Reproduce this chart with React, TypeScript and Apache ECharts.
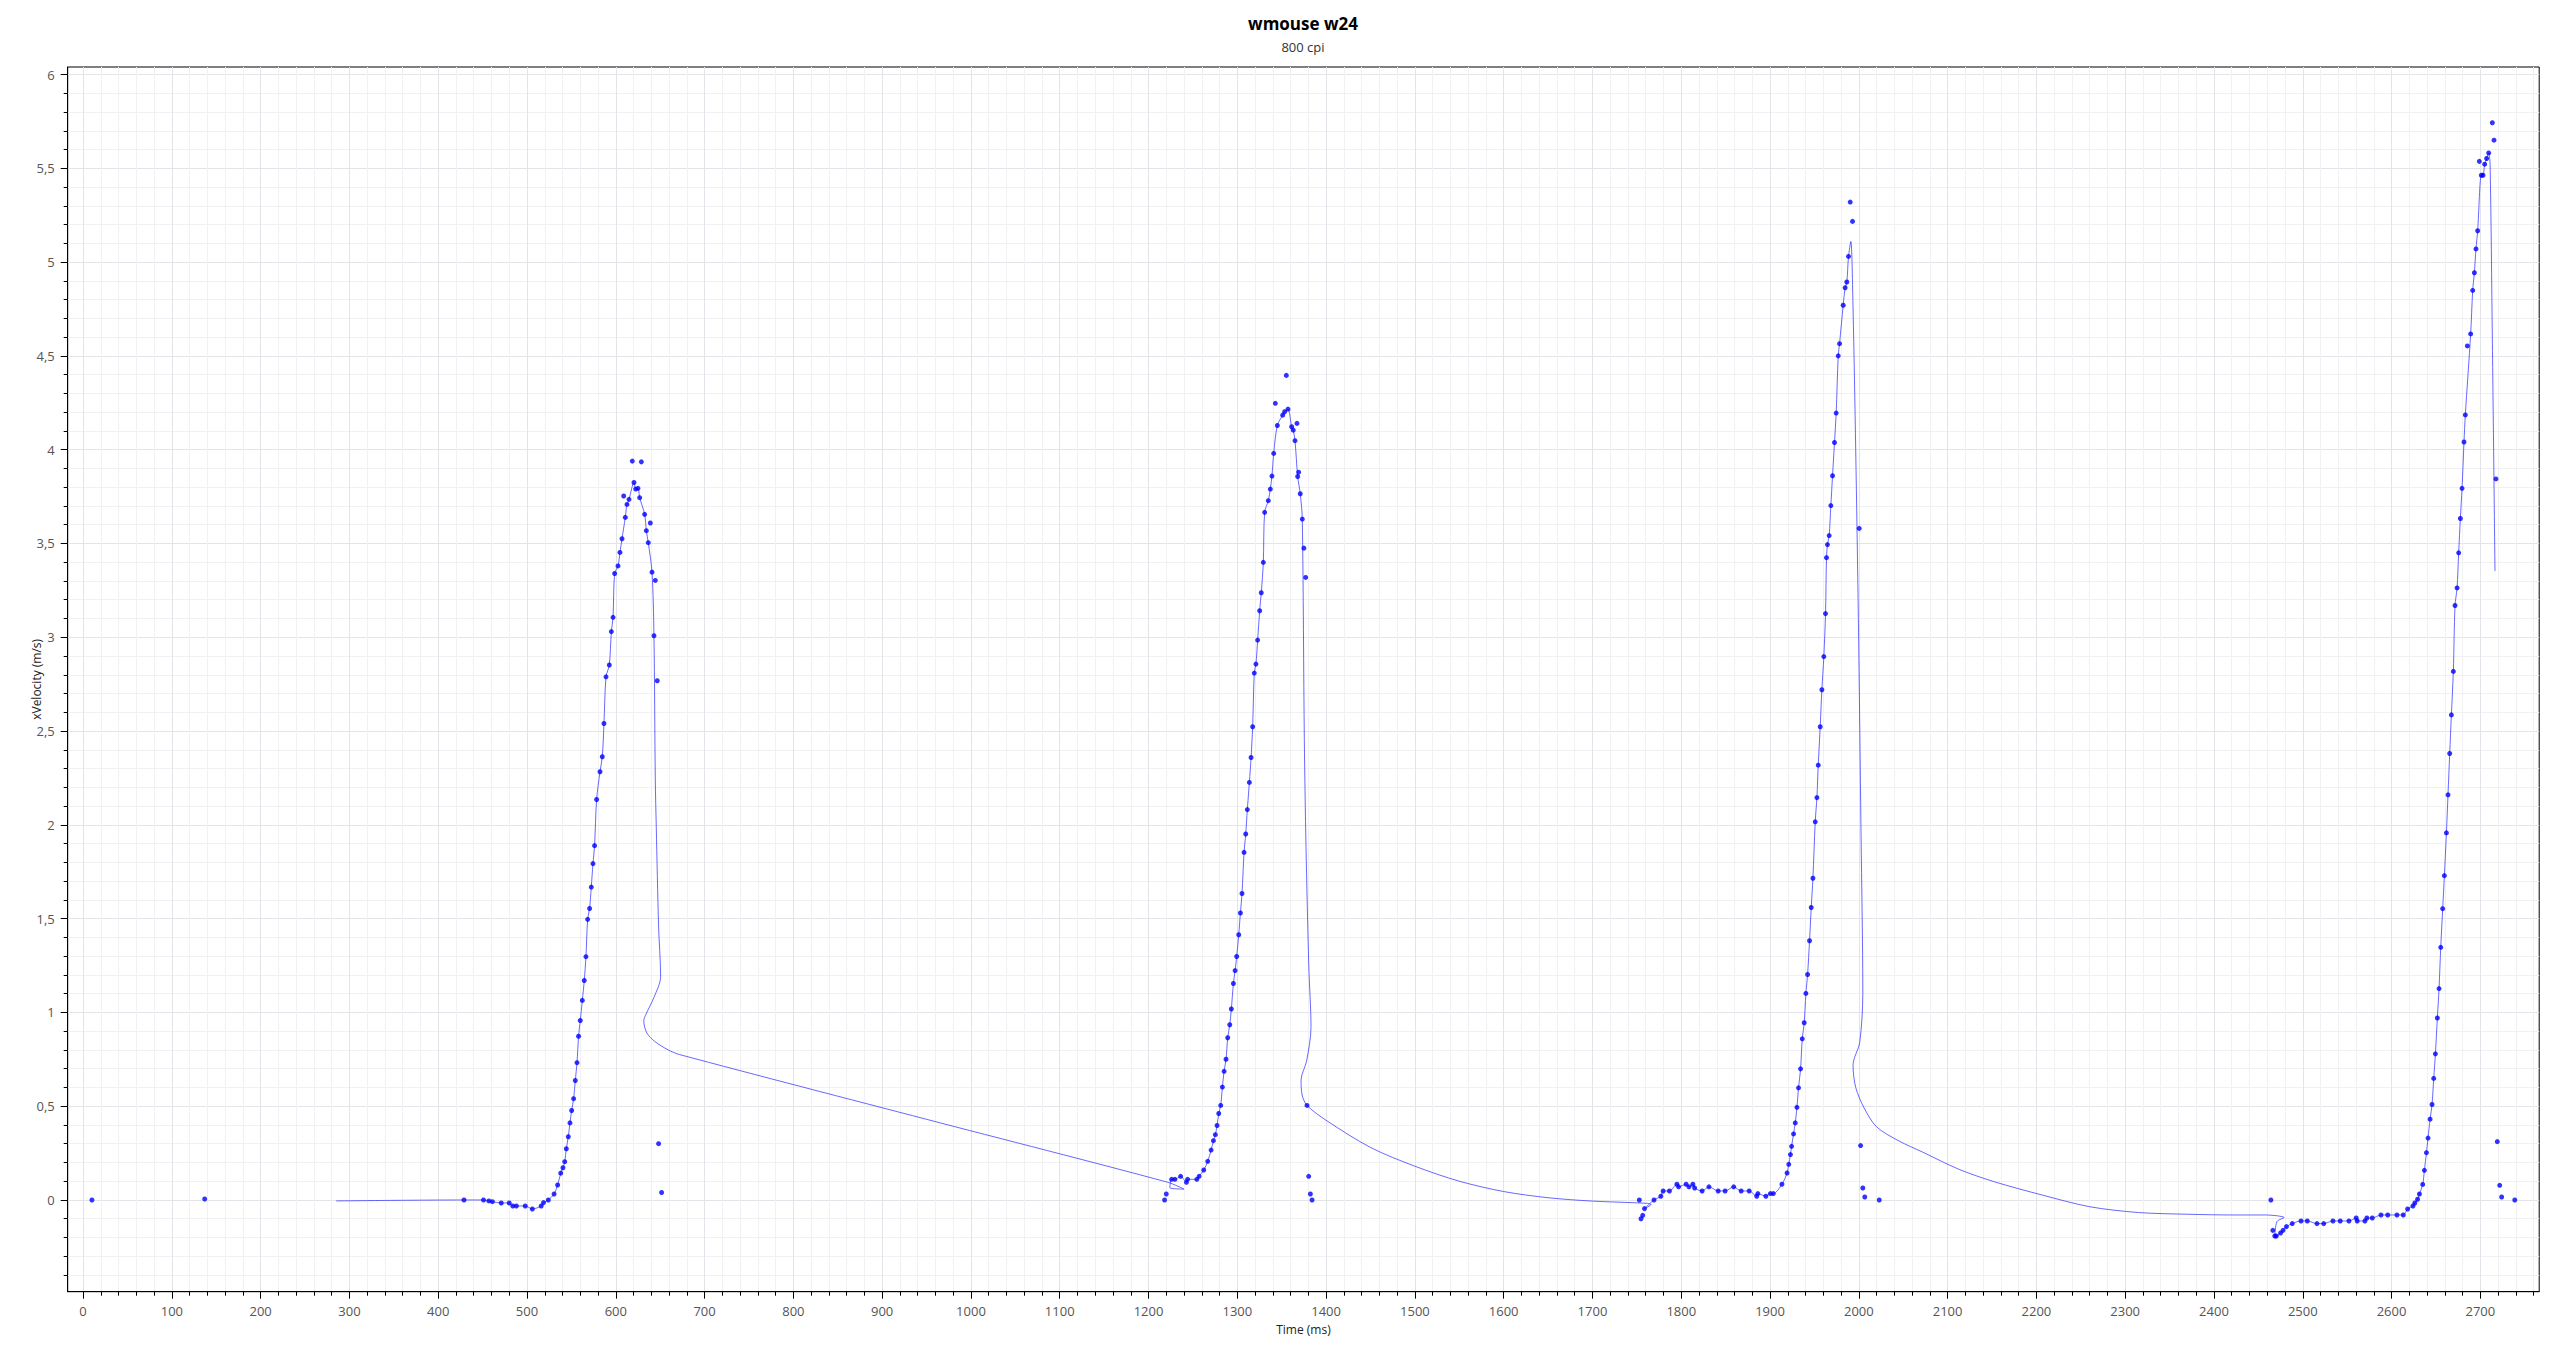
import React, { useEffect, useRef } from "react";
import * as echarts from "echarts";

// ---------- data (time in ms, x velocity in m/s) ----------
const strayPoints: number[][] = [[10, 0], [137, 0.005]];

const idleLead: number[][] = [[285, -0.005]];

const burst1: number[][] = [
  [429, 0], [451, 0], [457, -0.005], [461, -0.009], [471, -0.016], [480, -0.016], [484, -0.032], [488, -0.032],
  [498, -0.032], [506, -0.048], [516, -0.032], [518.6, -0.014], [524, 0], [530.5, 0.032], [534.5, 0.08], [538, 0.143],
  [540.5, 0.172], [542.5, 0.204], [544.3, 0.273], [546.5, 0.337], [548.4, 0.411], [550.3, 0.477], [552.5, 0.54],
  [554.4, 0.637], [556.3, 0.732], [558.1, 0.873], [560, 0.957], [562.3, 1.064], [564.5, 1.17], [566.4, 1.297],
  [568.3, 1.496], [570.5, 1.554], [572.4, 1.668], [574.3, 1.793], [576.1, 1.889], [578.4, 2.135], [582.2, 2.283],
  [584.8, 2.363], [586.7, 2.54], [589, 2.789], [592.7, 2.852], [595, 3.03], [596.9, 3.106], [598.7, 3.34],
  [602.5, 3.38], [604.7, 3.452], [607, 3.525], [610.7, 3.639], [612.6, 3.708], [614.9, 3.735], [620.5, 3.825],
  [622.4, 3.79], [625, 3.794], [626.9, 3.744], [632.5, 3.655], [634.4, 3.568], [636.6, 3.504], [640.8, 3.347],
  [643, 3.008],
];
const burst1Outliers: number[][] = [
  [608.9, 3.753], [618.6, 3.939], [628.8, 3.935], [638.9, 3.609], [644.5, 3.303], [646.7, 2.768], [648.2, 0.3], [651.6, 0.04],
];
const bridge1: number[][] = [
  [644.5, 2.24], [645.6, 1.99], [648.2, 1.46], [650.5, 1.19], [643, 1.08], [634, 0.99], [631.5, 0.955], [635, 0.89],
  [644, 0.845], [659, 0.8], [672, 0.775], [950, 0.43], [1222, 0.094], [1240, 0.058], [1224, 0.066],
];

const burst2: number[][] = [
  [1226, 0.11], [1229.7, 0.11], [1236.2, 0.126], [1242.7, 0.094], [1244, 0.11], [1254.4, 0.11], [1257, 0.126],
  [1262.2, 0.16], [1266.7, 0.206], [1270.5, 0.266], [1273.1, 0.316], [1275.3, 0.348], [1277.2, 0.397], [1279.1, 0.461],
  [1281.3, 0.504], [1283.2, 0.602], [1285.1, 0.686], [1287.3, 0.75], [1289.2, 0.865], [1291.5, 0.934], [1293.3, 1.018],
  [1295.6, 1.154], [1297.5, 1.223], [1299.3, 1.298], [1301.6, 1.414], [1303.5, 1.53], [1305.3, 1.634], [1307.6, 1.853],
  [1309.5, 1.951], [1311.3, 2.081], [1313.6, 2.226], [1315.5, 2.359], [1317.3, 2.523], [1319.1, 2.809], [1321, 2.857],
  [1322.9, 2.985], [1325.2, 3.141], [1327, 3.237], [1329.3, 3.399], [1330.8, 3.666], [1334.9, 3.728], [1337.2, 3.79],
  [1339, 3.859], [1341, 3.98], [1345.1, 4.129], [1351.1, 4.184], [1353.3, 4.202], [1357.1, 4.216], [1361.2, 4.122],
  [1363, 4.104], [1365, 4.048], [1368, 3.857], [1370.9, 3.765], [1373.2, 3.63],
];
const burst2Outliers: number[][] = [
  [1218.1, 0], [1220, 0.032], [1342.8, 4.247], [1355.2, 4.396], [1367.2, 4.14], [1369.1, 3.88], [1375, 3.475],
  [1377, 3.319], [1380.4, 0.126], [1382.3, 0.032], [1384.2, 0],
];
const bridge2: number[][] = [
  [1375.5, 2.45], [1377.4, 1.88], [1380.5, 1.25], [1383, 0.92], [1378, 0.74], [1371.8, 0.64], [1373, 0.56],
];
const burst2Tail: number[][] = [[1378.5, 0.504]];
const decay2: number[][] = [
  [1400, 0.425], [1450, 0.28], [1500, 0.18], [1550, 0.1], [1600, 0.045], [1650, 0.012], [1700, -0.006],
  [1762, -0.018], [1766, -0.024],
];

const burst3: number[][] = [
  [1758.6, -0.046], [1769.3, 0], [1777, 0.02], [1779.6, 0.048], [1786.7, 0.048], [1795.1, 0.084], [1797, 0.07],
  [1805.5, 0.084], [1808.7, 0.07], [1813.1, 0.084], [1815.1, 0.064], [1823.5, 0.048], [1831.2, 0.07], [1841.6, 0.048],
  [1849.4, 0.048], [1859.1, 0.07], [1867.5, 0.048], [1876.5, 0.048], [1885, 0.02], [1886.3, 0.034], [1895.3, 0.02],
  [1900.4, 0.034], [1903.7, 0.034], [1913.4, 0.084], [1919.2, 0.144], [1921.1, 0.19], [1923, 0.242], [1924.3, 0.286],
  [1926.5, 0.352], [1928.4, 0.411], [1930.3, 0.494], [1932.1, 0.598], [1934.4, 0.699], [1936.3, 0.859], [1938.5, 0.945],
  [1940.4, 1.101], [1942.3, 1.202], [1944.5, 1.382], [1946.4, 1.559], [1948.3, 1.715], [1950.9, 2.016], [1952.8, 2.145],
  [1954.3, 2.318], [1956.5, 2.523], [1958.4, 2.72], [1960.6, 2.897], [1962.5, 3.126], [1963.6, 3.424], [1964.7, 3.494],
  [1966.6, 3.542], [1968.5, 3.702], [1970.4, 3.861], [1972.6, 4.038], [1974.5, 4.195], [1976.8, 4.5], [1978.3, 4.565],
  [1982.4, 4.77], [1984.6, 4.863], [1986.5, 4.894], [1988.4, 5.03],
];
const burst3Outliers: number[][] = [
  [1752.8, 0], [1754.7, -0.1], [1756.6, -0.082], [1990.3, 5.32], [1992.9, 5.217], [2000.4, 3.58], [2002, 0.29],
  [2004.5, 0.064], [2006.7, 0.016], [2023, 0],
];
const bridge3: number[][] = [
  [1991, 5.11], [1993.5, 4.75], [1996.5, 4.0], [1999.5, 3.1], [2002.5, 1.95], [2004.5, 1.1], [2001, 0.84], [1993.5, 0.72],
  [1996.5, 0.6], [2006, 0.49], [2020, 0.39], [2045, 0.315], [2072, 0.255], [2112, 0.165], [2152, 0.098], [2206, 0.027],
  [2260, -0.036], [2315, -0.067], [2370, -0.076], [2424, -0.08], [2458, -0.08], [2479, -0.094], [2471, -0.115],
];

const burst4: number[][] = [
  [2468.5, -0.192], [2470.2, -0.192], [2475, -0.176], [2477.8, -0.162], [2481.6, -0.142], [2488.2, -0.126],
  [2498, -0.112], [2505.1, -0.112], [2516, -0.126], [2523.6, -0.126], [2534, -0.112], [2542.2, -0.112], [2552, -0.112],
  [2560.2, -0.096], [2561.3, -0.112], [2570, -0.112], [2572.2, -0.096], [2578.3, -0.096], [2588.1, -0.08],
  [2595.7, -0.08], [2606.1, -0.08], [2613.2, -0.08], [2618.1, -0.048], [2624.1, -0.032], [2626.2, -0.016],
  [2629.3, 0.004], [2631.4, 0.032], [2635.1, 0.083], [2637, 0.158], [2639.3, 0.252], [2641.1, 0.33], [2643.4, 0.431],
  [2645.6, 0.509], [2647.5, 0.648], [2649.4, 0.779], [2651.6, 0.97], [2653.5, 1.127], [2655.4, 1.347], [2657.6, 1.553],
  [2659.5, 1.729], [2661.8, 1.957], [2663.6, 2.16], [2665.5, 2.38], [2667.4, 2.586], [2669.6, 2.818], [2671.5, 3.169],
  [2673.8, 3.263], [2675.6, 3.45], [2677.5, 3.633], [2679.4, 3.794], [2681.6, 4.041], [2683.1, 4.185], [2689.1, 4.617],
  [2691.4, 4.849], [2693.3, 4.943], [2695.1, 5.07], [2697, 5.167], [2701.1, 5.463], [2703, 5.463], [2704.9, 5.522],
  [2707.1, 5.552], [2709.4, 5.582],
];
const burst4Outliers: number[][] = [
  [2464.1, 0], [2466.3, -0.162], [2685.4, 4.553], [2698.9, 5.537], [2713.5, 5.743], [2715.4, 5.65], [2717.6, 3.844],
  [2719.1, 0.311], [2721.8, 0.078], [2724, 0.016], [2738.8, 0],
];
const tail4: number[][] = [[2711, 5.52], [2713.5, 4.6], [2716.5, 3.353]];

// axis ticks
const xMajorTicks = [0, 100, 200, 300, 400, 500, 600, 700, 800, 900, 1000, 1100, 1200, 1300, 1400, 1500, 1600,
  1700, 1800, 1900, 2000, 2100, 2200, 2300, 2400, 2500, 2600, 2700];
const xMinorTicks = Array.from({ length: 139 }, (_, i) => i * 20).filter((v) => v % 100 !== 0);
const yMajorTicks = [0, 0.5, 1, 1.5, 2, 2.5, 3, 3.5, 4, 4.5, 5, 5.5, 6];
const yMinorTicks = Array.from({ length: 64 }, (_, i) => (i - 4) / 10).filter((v) => Math.round(v * 10) % 5 !== 0);

const X_MIN = -17.3;
const X_MAX = 2766.3;
const Y_MIN = -0.489;
const Y_MAX = 6.04;

const FONT = '"Open Sans", "Noto Sans", sans-serif';

export default function App() {
  const ref = useRef<HTMLDivElement>(null);
  useEffect(() => {
    if (!ref.current) return;
    const chart = echarts.init(ref.current, undefined, { renderer: "svg" });

    const lineTrace = [
      ...idleLead, ...burst1, ...bridge1, ...burst2, ...bridge2, ...burst2Tail, ...decay2,
      ...burst3, ...bridge3, ...burst4, ...tail4,
    ];
    const samples = [
      ...strayPoints, ...burst1, ...burst1Outliers, ...burst2, ...burst2Outliers, ...burst2Tail,
      ...burst3, ...burst3Outliers, ...burst4, ...burst4Outliers,
    ];

    const fmtX = (v: number) => String(Math.round(v));
    const fmtY = (v: number) => String(Math.round(v * 10) / 10).replace(".", ",");

    chart.setOption({
      animation: false,
      backgroundColor: "#fff",
      graphic: [
        {
          type: "text", x: 1303, y: 23, silent: true,
          style: { text: "wmouse w24", fontSize: 17, fontWeight: "bold", fontFamily: FONT, fill: "#000",
            textAlign: "center", textVerticalAlign: "middle" },
        },
        {
          type: "text", x: 1303, y: 47, silent: true,
          style: { text: "800 cpi", fontSize: 13, fontFamily: FONT, fill: "#333",
            textAlign: "center", textVerticalAlign: "middle" },
        },
      ],
      grid: {
        left: 67.7, top: 67, right: 20.8, bottom: 60.3,
        show: true, borderColor: "#000", borderWidth: 1, backgroundColor: "transparent",
      },
      xAxis: [
        {
          type: "value", min: X_MIN, max: X_MAX, position: "bottom",
          axisLine: { show: false, onZero: false },
          axisTick: { show: true, customValues: xMinorTicks, length: 4, lineStyle: { color: "#000" } },
          axisLabel: { show: false },
          splitLine: { show: true, lineStyle: { color: "#f1f1f3", width: 1 } },
        },
        {
          type: "value", min: X_MIN, max: X_MAX, position: "bottom",
          name: "Time (ms)", nameLocation: "middle", nameGap: 32, nameMoveOverlap: false,
          nameTextStyle: { fontSize: 12, fontFamily: FONT, color: "#222" },
          axisLine: { show: true, onZero: false, lineStyle: { color: "#000" } },
          axisTick: { show: true, customValues: xMajorTicks, length: 7, lineStyle: { color: "#000" } },
          axisLabel: { customValues: xMajorTicks, margin: 13, fontSize: 13, fontFamily: FONT, color: "#555", formatter: fmtX },
          splitLine: { show: true, lineStyle: { color: "#e3e3ea", width: 1 } },
        },
      ],
      yAxis: [
        {
          type: "value", min: Y_MIN, max: Y_MAX, position: "left",
          axisLine: { show: false, onZero: false },
          axisTick: { show: true, customValues: yMinorTicks, length: 4, lineStyle: { color: "#000" } },
          axisLabel: { show: false },
          splitLine: { show: true, lineStyle: { color: "#f1f1f3", width: 1 } },
        },
        {
          type: "value", min: Y_MIN, max: Y_MAX, position: "left",
          name: "xVelocity (m/s)", nameLocation: "middle", nameGap: 25, nameMoveOverlap: false,
          nameTextStyle: { fontSize: 12, fontFamily: FONT, color: "#222" },
          axisLine: { show: true, onZero: false, lineStyle: { color: "#000" } },
          axisTick: { show: true, customValues: yMajorTicks, length: 7, lineStyle: { color: "#000" } },
          axisLabel: { customValues: yMajorTicks, margin: 13, fontSize: 13, fontFamily: FONT, color: "#555", formatter: fmtY },
          splitLine: { show: true, lineStyle: { color: "#e3e3ea", width: 1 } },
        },
      ],
      series: [
        {
          name: "smoothed", type: "line", xAxisIndex: 1, yAxisIndex: 1, data: lineTrace,
          showSymbol: false, smooth: 0.3, z: 2,
          lineStyle: { color: "rgba(40,40,255,0.7)", width: 1 },
        },
        {
          name: "samples", type: "scatter", xAxisIndex: 1, yAxisIndex: 1, data: samples,
          symbol: "circle", symbolSize: 5, z: 3,
          itemStyle: { color: "#0000ff" },
        },
      ],
    });
    return () => chart.dispose();
  }, []);
  return (
    <div
      ref={ref}
      style={{ position: "absolute", left: 0, top: 0, width: 2560, height: 1352 }}
    />
  );
}
